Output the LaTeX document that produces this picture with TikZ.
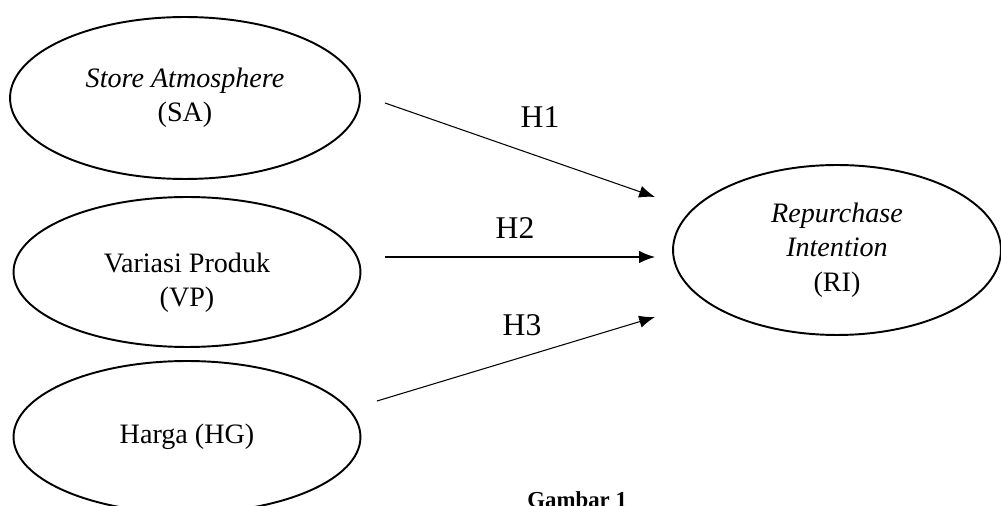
\documentclass[tikz,border=0pt]{standalone}
\usepackage{fontspec}
\setmainfont{Liberation Serif}
\usetikzlibrary{shapes,arrows.meta,calc,positioning}
\tikzset{
    -{Latex[length=9pt,width=7pt]},auto,
    var/.style ={ellipse, draw, line width=1.1pt, align=center, inner sep=0pt, font=\fontsize{16}{19.5}\selectfont},
    hyp/.style = {inner sep=0pt, font=\fontsize{18}{20}\selectfont},
    link/.style={line width=0.6pt}
}

\begin{document}
\begin{tikzpicture}[x=0.02cm,y=-0.02cm]
    \useasboundingbox (0,0) rectangle (1001,506);

    %%Nodes
    \node[var, minimum width=7cm, minimum height=3.24cm] (sa) at (185,98) {\textit{Store Atmosphere}\\(SA)};
    \node[var, minimum width=6.94cm, minimum height=3cm] (vp) at (187,272) {\rule{0pt}{23pt}Variasi Produk\\(VP)};
    \node[var, minimum width=6.94cm, minimum height=3.04cm] (hg) at (187,437) {Harga (HG)};
    \node[var, minimum width=6.56cm, minimum height=3.4cm] (ri) at (837,250) {\textit{Repurchase}\\\textit{Intention}\\(RI)};

    %%Arrow ends
    \coordinate (sa-out) at (385,103);
    \coordinate (vp-out) at (385,257);
    \coordinate (hg-out) at (377,401);
    \coordinate (ri-in1) at (655,197);
    \coordinate (ri-in2) at (655,257);
    \coordinate (ri-in3) at (655,317);

    %%Labels
    \node[hyp] (h1) at (540,117) {H1};
    \node[hyp] (h2) at (515,228) {H2};
    \node[hyp] (h3) at (522,325) {H3};
    \node[anchor=north west, inner sep=0pt, font=\bfseries\fontsize{13}{15}\selectfont] (fig) at (527,491) {Gambar 1};

    % Directed edge
    \path (sa-out) edge[link] (ri-in1);
    \path (vp-out) edge[link] (ri-in2);
    \path (hg-out) edge[link] (ri-in3);
\end{tikzpicture}
\end{document}
